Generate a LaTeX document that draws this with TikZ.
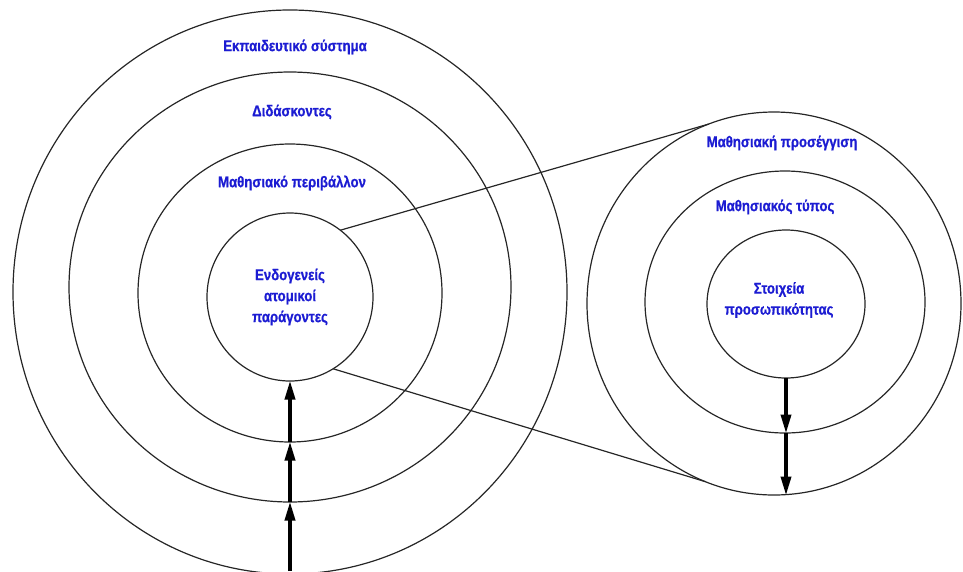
\documentclass[tikz,border=0pt]{standalone}
\usepackage{fontspec}
\setmainfont{Liberation Sans}
\newfontfamily\lblfont[FakeStretch=0.85,FakeBold=0.8]{Liberation Sans Bold}
\usetikzlibrary{shapes.geometric,arrows.meta}
\definecolor{lblblue}{RGB}{28,28,210}
\begin{document}
\begin{tikzpicture}[x=1pt,y=-1pt,
  ring/.style={draw=black!85,line width=1.2pt,ellipse,inner sep=0pt,outer sep=0pt},
  lbl/.style={text=lblblue,font=\lblfont\fontsize{15.5}{21}\selectfont,align=center,inner sep=0pt},
  link/.style={draw=black!85,line width=1.2pt},
  push/.style={line width=3.6pt,-{Triangle[length=19pt,width=10pt]},shorten >=-0.5pt}]
\useasboundingbox (0,0) rectangle (963,571);

% left set of nested rings
\node[ring,minimum width=554pt,minimum height=564pt] (L3) at (290,292) {};
\node[ring,minimum width=442pt,minimum height=430pt] (L2) at (290,287) {};
\node[ring,minimum width=304pt,minimum height=298pt] (L1) at (290,293) {};
\node[ring,minimum width=166pt,minimum height=168pt] (L0) at (290,297) {};

% right set of nested rings
\node[ring,minimum width=374pt,minimum height=383pt] (R2) at (774,303.5) {};
\node[ring,minimum width=280pt,minimum height=262pt] (R1) at (785,302) {};
\node[ring,minimum width=158pt,minimum height=148pt] (R0) at (786,304) {};

% ring labels
\node[lbl] (t3) at (295,47) {Εκπαιδευτικό σύστημα};
\node[lbl] (t2) at (292,112) {Διδάσκοντες};
\node[lbl] (t1) at (292,183) {Μαθησιακό περιβάλλον};
\node[lbl] (t0) at (290,297) {Ενδογενείς\\ατομικοί\\παράγοντες};
\node[lbl] (u2) at (782,143) {Μαθησιακή προσέγγιση};
\node[lbl] (u1) at (775,207) {Μαθησιακός τύπος};
\node[lbl] (u0) at (779,300) {Στοιχεία\\προσωπικότητας};

% zoom lines from the core to the right rings
\draw[link] (L0.53.5) -- (R2.110);
\draw[link] (L0.-59) -- (R2.249);

% upward arrows through the left rings
\coordinate (base) at (290,571);
\draw[push] (base) -- (L2.south);
\draw[push] (L2.south) -- (L1.south);
\draw[push] (L1.south) -- (L0.south);

% downward arrows through the right rings
\draw[push] (R0.south) -- (R0.south |- R1.south);
\draw[push] (R0.south |- R1.south) -- (R0.south |- R2.south);
\end{tikzpicture}
\end{document}
